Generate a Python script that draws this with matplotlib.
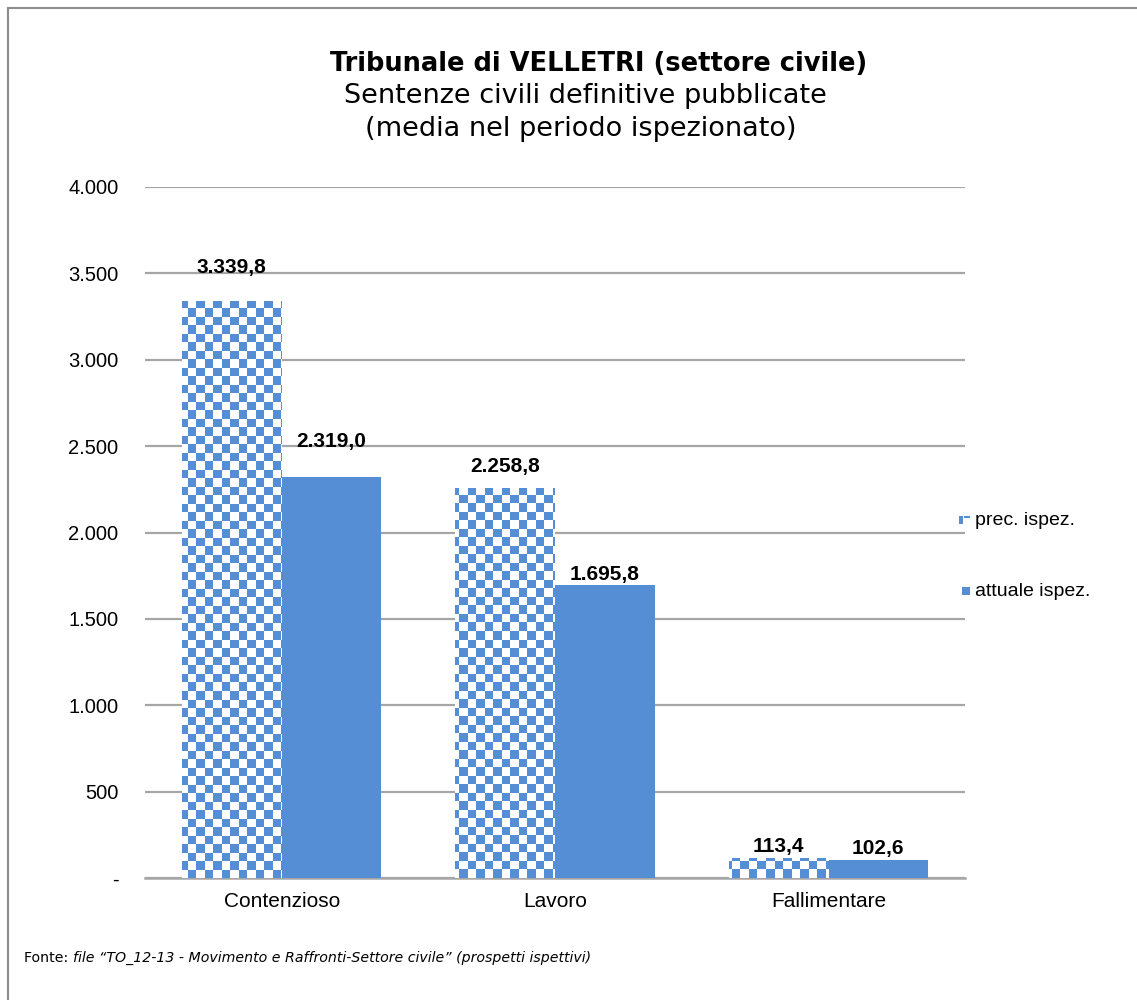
import numpy as np
import matplotlib
matplotlib.use("Agg")
import matplotlib.pyplot as plt
from matplotlib.patches import Rectangle
from matplotlib.lines import Line2D
from matplotlib.legend_handler import HandlerBase
from matplotlib.colors import ListedColormap
from matplotlib.text import Annotation

categories = ["Contenzioso", "Lavoro", "Fallimentare"]
prec = [3339.8, 2258.8, 113.4]
attuale = [2319.0, 1695.8, 102.6]
labels_prec = ["3.339,8", "2.258,8", "113,4"]
labels_att = ["2.319,0", "1.695,8", "102,6"]
yticks = [0, 500, 1000, 1500, 2000, 2500, 3000, 3500, 4000]
ytick_labels = ["-", "500", "1.000", "1.500", "2.000", "2.500", "3.000", "3.500", "4.000"]
series_names = ["prec. ispez.", "attuale ispez."]

# label offsets above bar tops (pixels), styling only
off_prec = [28, 16, 6]
off_att = [30, 5, 6]

BLUE = "#558ED5"
GRID = "#A6A6A6"

W, H = 1137, 1000
fig = plt.figure(figsize=(W / 100, H / 100), dpi=100)
ax = fig.add_axes([145 / W, 1 - 878 / H, (965 - 145) / W, (878 - 187) / H])

x = np.arange(len(categories))
bw = 0.365
bars_p = ax.bar(x - bw / 2, prec, bw, color=BLUE, linewidth=0, zorder=3)
bars_a = ax.bar(x + bw / 2, attuale, bw, color=BLUE, linewidth=0, zorder=3)

ax.set_xlim(-0.5, len(categories) - 0.5)
ax.set_ylim(0, 4000)

# checker overlay clipped to the "prec" bars
cell = 8.5
nx = int((965 - 145) / cell) + 2
ny = int((878 - 187) / cell) + 2
ii, jj = np.meshgrid(np.arange(nx), np.arange(ny))
chk = ((ii + jj) % 2).astype(float)
cmap = ListedColormap(["white", BLUE])
x0, x1 = ax.get_xlim()
y0, y1 = ax.get_ylim()
ext_x1 = x0 + (x1 - x0) * nx * cell / (965 - 145)
ext_y1 = y0 + (y1 - y0) * ny * cell / (878 - 187)
for b in bars_p:
    im = ax.imshow(chk, cmap=cmap, extent=[x0, ext_x1, y0, ext_y1], origin="lower",
                   aspect="auto", interpolation="nearest", zorder=4)
    im.set_clip_path(b)
ax.set_xlim(x0, x1)
ax.set_ylim(y0, y1)

for bars, labs, offs in [(bars_p, labels_prec, off_prec), (bars_a, labels_att, off_att)]:
    for b, t, o in zip(bars, labs, offs):
        ax.annotate(t, (b.get_x() + b.get_width() / 2, b.get_height()), xytext=(0, o * 0.72),
                    textcoords="offset points", ha="center", va="baseline",
                    fontsize=15, fontweight="bold", family="Liberation Sans", zorder=5)

ax.set_yticks(yticks)
ax.set_yticklabels(ytick_labels, family="Liberation Sans", fontsize=14.5)
ax.set_xticks(x)
ax.set_xticklabels(categories, family="Liberation Sans", fontsize=15)
ax.tick_params(axis="both", length=0)
ax.tick_params(axis="y", pad=19)
ax.tick_params(axis="x", pad=10)
ax.yaxis.grid(True, color=GRID, linewidth=1.6, zorder=0)
ax.set_axisbelow(True)
for s in ["top", "right", "left"]:
    ax.spines[s].set_visible(False)
ax.spines["bottom"].set_color(GRID)
ax.spines["bottom"].set_linewidth(1.8)


class CheckerHandler(HandlerBase):
    def create_artists(self, legend, orig_handle, xd, yd, width, height, fontsize, trans):
        s = height * 0.42
        cx = xd + width - 2 * s
        cy = yd + height * 0.1
        arts = [Rectangle((cx, cy), s * 0.8, s, facecolor=BLUE, lw=0, transform=trans),
                Rectangle((cx, cy + s), s * 0.8, s * 0.35, facecolor=BLUE, lw=0, transform=trans),
                Rectangle((cx + s, cy + s), s, s * 0.35, facecolor=BLUE, lw=0, transform=trans)]
        return arts


class SquareHandler(HandlerBase):
    def create_artists(self, legend, orig_handle, xd, yd, width, height, fontsize, trans):
        s = height * 0.6
        return [Rectangle((xd + width - s, yd + (height - s) / 2 - 1), s, s, facecolor=BLUE, lw=0,
                          transform=trans)]


h1 = Rectangle((0, 0), 1, 1)
h2 = Rectangle((0, 0), 1, 1, facecolor=BLUE)
leg = fig.legend([h1, h2], series_names, loc="center left",
                 bbox_to_anchor=(938 / W, 1 - 556 / H), frameon=False,
                 prop={"family": "Liberation Sans", "size": 14},
                 handler_map={h1: CheckerHandler(), h2: SquareHandler()},
                 handlelength=0.75, handletextpad=0.25, labelspacing=2.75)

fig.text(599 / W, 1 - 64 / H, "Tribunale di VELLETRI (settore civile)", ha="center", va="center",
         fontsize=18.5, fontweight="bold", family="DejaVu Sans")
fig.text(585 / W, 1 - 96 / H, "Sentenze civili definitive pubblicate", ha="center", va="center",
         fontsize=19.5, family="DejaVu Sans")
fig.text(581 / W, 1 - 129 / H, "(media nel periodo ispezionato)", ha="center", va="center",
         fontsize=19.5, family="DejaVu Sans")

t1 = fig.text(24 / W, 1 - 962 / H, "Fonte: ", ha="left", va="baseline", fontsize=10.2,
              family="DejaVu Sans")
fig.add_artist(Annotation(
    "file \u201cTO_12-13 - Movimento e Raffronti-Settore civile\u201d (prospetti ispettivi)",
    xy=(1, 0), xycoords=t1, xytext=(0, 0), textcoords="offset points",
    ha="left", va="bottom", fontsize=10.2, family="DejaVu Sans", style="italic"))

fig.add_artist(Line2D([7.5 / W, 7.5 / W], [0, 1 - 7.5 / H], color="#8C8C8C", lw=1.5,
                      transform=fig.transFigure))
fig.add_artist(Line2D([7.5 / W, 1], [1 - 7.5 / H, 1 - 7.5 / H], color="#8C8C8C", lw=1.5,
                      transform=fig.transFigure))

fig.savefig("out.png", dpi=100)
